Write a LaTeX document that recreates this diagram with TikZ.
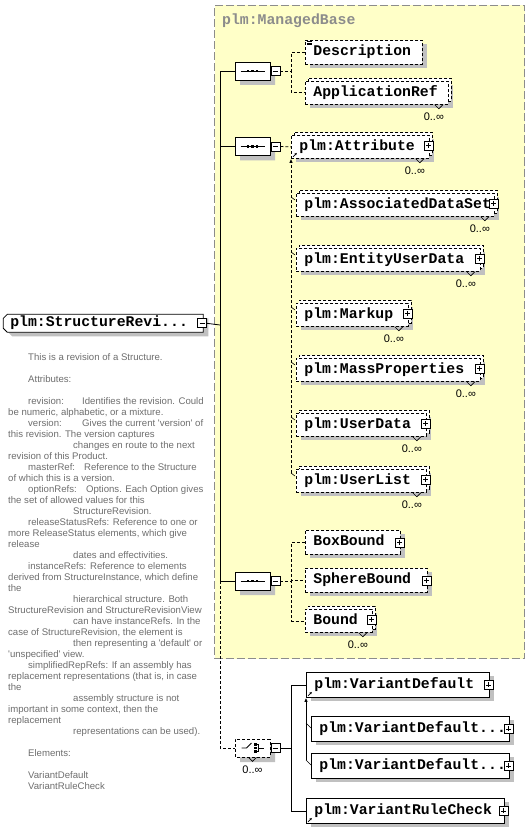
\documentclass[tikz,border=0pt]{standalone}
\usepackage{fontspec}
\usepackage{tikz}
\usetikzlibrary{shapes.misc,shadows,arrows.meta}

\newfontfamily\xsdmono{Liberation Mono}
\newfontfamily\xsdsans{Liberation Sans}
\definecolor{basefill}{RGB}{255,255,200}
\definecolor{baseline}{RGB}{140,140,140}
\definecolor{shade}{RGB}{192,192,192}
\definecolor{notegray}{RGB}{110,110,110}
\newcommand\notetab[2]{\makebox[#1pt][l]{#2}}

\begin{document}
\begin{tikzpicture}[x=1pt,y=-1pt,
  opt/.style={dash pattern=on 3pt off 2pt},
  elem/.style={draw, line width=.8pt, fill=white, rectangle, anchor=north west,
    inner xsep=8pt, inner ysep=0pt, text height=9.5pt, text depth=3pt,
    minimum height=24pt, align=left,
    font=\xsdmono\bfseries\fontsize{14.8}{16}\selectfont,
    drop shadow={shadow xshift=5pt, shadow yshift=-4pt, fill=shade, opacity=1}},
  rep/.style={minimum height=23pt,
    copy shadow={shadow xshift=3pt, shadow yshift=3pt, draw=black, fill=white,
      line width=.8pt, opt}},
  mainel/.style={draw, line width=.8pt, fill=white, chamfered rectangle,
    chamfered rectangle corners={north west,south west},
    chamfered rectangle xsep=2pt, chamfered rectangle ysep=2pt,
    anchor=north west, inner xsep=5pt, inner ysep=0pt, text width=186pt,
    text height=9.5pt, text depth=3pt, minimum height=18pt, align=left,
    font=\xsdmono\bfseries\fontsize{14.8}{16}\selectfont,
    drop shadow={shadow xshift=5pt, shadow yshift=-4pt, fill=shade, opacity=1}},
  comp/.style={draw, line width=.8pt, fill=white, chamfered rectangle,
    chamfered rectangle xsep=5pt, chamfered rectangle ysep=5pt,
    minimum width=35pt, minimum height=18pt, inner sep=0pt,
    drop shadow={shadow xshift=5pt, shadow yshift=-5pt, fill=shade, opacity=1}},
  mult/.style={font=\xsdsans\fontsize{11}{12}\selectfont, inner sep=0pt},
  note/.style={font=\xsdsans\fontsize{9.6}{11}\selectfont, text=notegray,
    align=left, inner sep=0pt},
  pics/plusbox/.style={code={
    \draw[fill=white, line width=.7pt] (-4.5,-4.5) rectangle (4.5,4.5);
    \draw[line width=.7pt] (-2.5,0) -- (2.5,0) (0,-2.5) -- (0,2.5);}},
  pics/minusbox/.style={code={
    \draw[fill=white, line width=.7pt] (-4.5,-4.5) rectangle (4.5,4.5);
    \draw[line width=.7pt] (-2.5,0) -- (2.5,0);}},
  pics/seqmark/.style={code={
    \draw[line width=.8pt] (-12,0) -- (12,0);
    \foreach \d in {-6,-1.5,3}
      \fill (\d,-1.3) rectangle ++(2.6,2.6);}},
  pics/choicemark/.style={code={
    \draw[line width=.8pt] (-11,0) -- (-6,0) -- (-1,-5);
    \foreach \d in {-5,-1.3,2.4}
      \fill (1.5,\d) rectangle ++(2.6,2.6);
    \draw[line width=.8pt] (4.1,-3.7) -- (6,-3.7) -- (6,3.7) -- (4.1,3.7)
      (6,0) -- (11,0);}}]
\useasboundingbox (0,0) rectangle (530,829);
\fill[white] (0,0) rectangle (530,829);

% plm:ManagedBase group
\node[draw=baseline, fill=basefill, line width=1pt, dash pattern=on 8pt off 3pt,
  anchor=north west, minimum width=310pt, minimum height=653pt] (mb) at (214,5) {};
\node[anchor=base west, inner sep=0pt, text=baseline,
  font=\xsdmono\bfseries\fontsize{14.8}{16}\selectfont] (mbtitle) at (222,25) {plm:ManagedBase};

% the element and its annotation
\node[mainel] (sr) at (5,316) {plm:StructureRevi...};
\pic at ([xshift=-1.5pt]sr.east) {minusbox};

\node[note, anchor=base west] (doc) at (8,789) {%
\hspace*{20pt}This is a revision of a Structure.\\[11pt]
\hspace*{20pt}Attributes:\\[11pt]
\hspace*{20pt}\notetab{54}{revision:}Identifies the revision. Could\\
be numeric, alphabetic, or a mixture.\\
\hspace*{20pt}\notetab{54}{version:}Gives the current \textquotesingle version\textquotesingle\ of\\
this revision. The version captures\\
\hspace*{65pt}changes en route to the next\\
revision of this Product.\\
\hspace*{20pt}\notetab{56}{masterRef:}Reference to the Structure\\
of which this is a version.\\
\hspace*{20pt}\notetab{58}{optionRefs:}Options. Each Option gives\\
the set of allowed values for this\\
\hspace*{65pt}StructureRevision.\\
\hspace*{20pt}releaseStatusRefs: Reference to one or\\
more ReleaseStatus elements, which give\\
release\\
\hspace*{65pt}dates and effectivities.\\
\hspace*{20pt}\notetab{62}{instanceRefs:}Reference to elements\\
derived from StructureInstance, which define\\
the\\
\hspace*{65pt}hierarchical structure. Both\\
StructureRevision and StructureRevisionView\\
\hspace*{65pt}can have instanceRefs. In the\\
case of StructureRevision, the element is\\
\hspace*{65pt}then representing a \textquotesingle default\textquotesingle\ or\\
\textquotesingle unspecified\textquotesingle\ view.\\
\hspace*{20pt}simplifiedRepRefs: If an assembly has\\
replacement representations (that is, in case\\
the\\
\hspace*{65pt}assembly structure is not\\
important in some context, then the\\
replacement\\
\hspace*{65pt}representations can be used).\\[11pt]
\hspace*{20pt}Elements:\\[11pt]
\hspace*{20pt}VariantDefault\\
\hspace*{20pt}VariantRuleCheck};

% compositors
\node[comp] (seqa) at (252.5,71) {};
\node[comp] (seqb) at (252.5,146.5) {};
\node[comp] (seqc) at (252.5,581) {};
\node[comp, opt] (cho) at (252.5,748) {};
\foreach \s in {seqa,seqb,seqc}
  \pic at (\s) {seqmark};
\pic at (cho) {choicemark};

% children
\node[elem, opt, text width=101pt] (desc) at (305,40) {Description};
\node[elem, opt, rep, text width=127pt] (appref) at (305,81) {ApplicationRef};
\node[elem, opt, rep, text width=122pt] (attr) at (291,135) {plm:Attribute};
\node[elem, opt, rep, text width=182pt] (assoc) at (296,193) {plm:AssociatedDataSet};
\node[elem, opt, rep, text width=168pt] (entity) at (296,248) {plm:EntityUserData};
\node[elem, opt, rep, text width=96pt] (markup) at (296,303) {plm:Markup};
\node[elem, opt, rep, text width=168pt] (mass) at (296,358) {plm:MassProperties};
\node[elem, opt, rep, text width=114pt] (userdata) at (296,413) {plm:UserData};
\node[elem, opt, rep, text width=114pt] (userlist) at (296,469) {plm:UserList};
\node[elem, opt, text width=79pt] (boxb) at (305,530) {BoxBound};
\node[elem, opt, text width=106pt] (sphb) at (305,568) {SphereBound};
\node[elem, opt, rep, text width=51pt] (bound) at (305,609) {Bound};
\node[elem, text width=167pt, minimum height=25pt] (vd) at (306,672) {plm:VariantDefault};
\node[elem, text width=182pt, minimum height=25pt] (vda) at (311,716) {plm:VariantDefault...};
\node[elem, text width=182pt, minimum height=25pt] (vdb) at (311,753) {plm:VariantDefault...};
\node[elem, text width=182pt, minimum height=25pt] (vrc) at (306,798) {plm:VariantRuleCheck};

% spine
\coordinate (sp) at (220,325);
\draw[line width=.8pt] ([xshift=3pt]sr.east) -- (sp);
\draw[line width=.8pt] (sp) |- (seqa.west);
\draw[line width=.8pt] (sp) |- (seqb.west);
\draw[line width=.8pt] (sp) |- (seqc.west);
\draw[opt, line width=.8pt] (sp |- seqc.west) |- (cho.west);

% branches
\draw[opt, line width=.8pt] ([xshift=10pt]seqa.east) -- ++(11,0) |- (desc.west);
\draw[opt, line width=.8pt] ([xshift=10pt]seqa.east) -- ++(11,0) |- (appref.west);
\draw[opt, line width=.8pt] ([xshift=10pt]seqb.east) -- (attr.west);
\draw[opt, line width=.8pt] ([xshift=10pt]seqc.east) -- ++(11,0) |- (boxb.west);
\draw[opt, line width=.8pt] ([xshift=10pt]seqc.east) -- ++(11,0) |- (sphb.west);
\draw[opt, line width=.8pt] ([xshift=10pt]seqc.east) -- ++(11,0) |- (bound.west);
\draw[line width=.8pt] ([xshift=10pt]cho.east) -- ++(11,0) |- (vd.west);
\draw[line width=.8pt] ([xshift=10pt]cho.east) -- ++(11,0) |- (vrc.west);

% substitution groups
\draw[opt, line width=.8pt, -{Latex[length=4pt,width=3.5pt]}]
  (attr.west |- userlist.north) ++(0,4) -- (attr.south west);
\foreach \e in {assoc,entity,markup,mass,userdata,userlist}
  \draw[line width=.6pt] (\e.north west) ++(-5,4) -- ++(4,3);
\draw[line width=.8pt, -{Latex[length=4pt,width=3.5pt]}]
  (vd.west |- vdb.north) ++(0,7) -- (vd.south west);
\foreach \e in {vda,vdb}
  \draw[line width=.6pt] (\e.north west) ++(-5,7) -- ++(5,5);

% expand boxes
\foreach \s in {seqa,seqb,seqc,cho}
  \pic at ([xshift=5pt]\s.east) {minusbox};
\foreach \e/\dy in {attr/-1.5,assoc/-1.5,entity/-1.5,markup/-1.5,mass/-1.5,
  userdata/-1.5,userlist/-1.5,bound/-1.5,boxb/0,sphb/0,vd/0,vda/0,vdb/0,vrc/0}
  \pic at ([shift={(-1,\dy)}]\e.east) {plusbox};

% reference marks and simple content mark
\foreach \e in {attr,vd,vrc}
  \draw[line width=.7pt, -{Latex[length=2.5pt,width=2.5pt]}]
    (\e.south west) ++(2,-2) -- ++(4,-4);
\draw[line width=.5pt] (desc.north west) ++(2,1.5) -- ++(5,0)
  ++(-5,1.5) -- ++(5,0) ++(-5,1.5) -- ++(5,0);

% occurrences
\foreach \e in {appref,attr,assoc,entity,markup,mass,userdata,userlist,bound} {
  \draw[line width=.6pt] ([xshift=-14pt]\e.south east) -- ++(4,4) -- ++(4,-4);
  \node[mult] (\e-n) at ([shift={(-15,12)}]\e.south east) {0..∞};
}
\draw[line width=.6pt] ([xshift=-4pt]cho.south) -- ++(4,4) -- ++(4,-4);
\node[mult] (cho-n) at ([yshift=-12pt]cho.south) {0..∞};
\end{tikzpicture}
\end{document}
